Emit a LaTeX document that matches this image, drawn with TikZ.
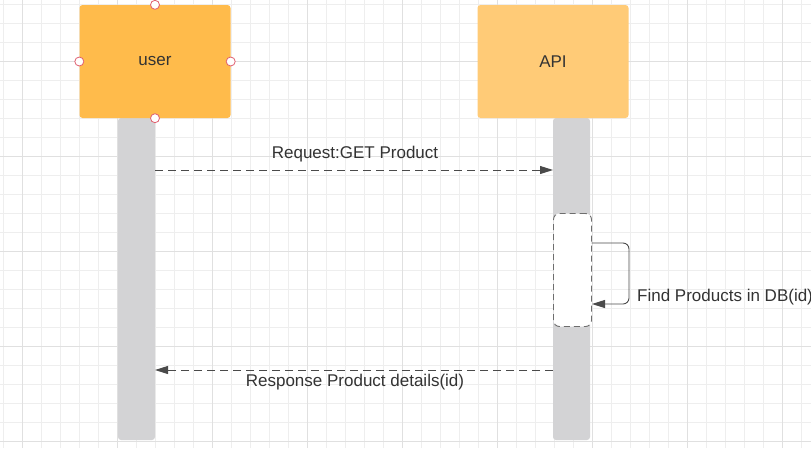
\documentclass[tikz,border=0pt]{standalone}
\usepackage{fontspec}
\setmainfont{Liberation Sans}
\usetikzlibrary{arrows.meta}
\definecolor{usercol}{HTML}{FFBB4B}
\definecolor{apicol}{HTML}{FFCB77}
\definecolor{lifecol}{HTML}{D3D3D5}
\definecolor{minorgrid}{HTML}{EEEEEE}
\definecolor{majorgrid}{HTML}{E0E0E0}
\definecolor{txt}{HTML}{333333}
\definecolor{linecol}{HTML}{4A4A4A}
\definecolor{handle}{HTML}{E06070}
\tikzset{
  actor/.style={rounded corners=3pt, minimum width=151pt, minimum height=113pt, inner sep=0pt, font=\fontsize{17}{20}\selectfont, text=txt},
  lifeline/.style={fill=lifecol, rounded corners=3pt, minimum width=37pt, minimum height=322pt, inner sep=0pt},
  msg/.style={draw=linecol, line width=0.9pt, dash pattern=on 8pt off 5pt, -{Triangle[length=13pt,width=8pt]}},
  lbl/.style={font=\fontsize{17}{20}\selectfont, text=txt, inner sep=0pt},
  handlept/.style={circle, draw=handle, fill=white, line width=0.8pt, minimum size=9pt, inner sep=0pt},
}
\begin{document}
\begin{tikzpicture}[x=1pt,y=-1pt]
\useasboundingbox (0,0) rectangle (811,448);
\fill[white] (0,0) rectangle (811,448);
% grid
\foreach \gx in {3.7,22.7,...,811} {\draw[minorgrid, line width=0.8pt] (\gx,0) -- (\gx,448);}
\foreach \gy in {4,23,...,448} {\draw[minorgrid, line width=0.8pt] (0,\gy) -- (811,\gy);}
\foreach \gx in {22.7,117.7,...,811} {\draw[majorgrid, line width=0.9pt] (\gx,0) -- (\gx,448);}
\foreach \gy in {61,156,...,448} {\draw[majorgrid, line width=0.9pt] (0,\gy) -- (811,\gy);}
% lifelines
\node[lifeline] (ul) at (136.5,279) {};
\node[lifeline] (al) at (571.5,279) {};
% actors
\node[actor, fill=usercol] (user) at (155,61.5) {user};
\node[actor, fill=apicol] (api) at (553,61.5) {API};
% handles on user
\node[handlept] (h1) at (user.north) {};
\node[handlept] (h2) at (user.south) {};
\node[handlept] (h3) at (user.west) {};
\node[handlept] (h4) at (user.east) {};
% activation
\node[draw=linecol!80, fill=white, dash pattern=on 6pt off 4pt, line width=0.9pt, rounded corners=6pt, minimum width=38pt, minimum height=113pt, inner sep=0pt] (act) at (572.5,270) {};
% request
\coordinate (rqs) at (155,170);
\coordinate (rqe) at (553,170);
\draw[msg] (rqs) -- (rqe);
\node[lbl] (rql) at (355,154.5) {Request:GET Product};
% self call
\coordinate (ss) at (591.5,243);
\coordinate (se) at (592,304);
\draw[draw=linecol, line width=0.9pt, rounded corners=6pt, -{Triangle[length=13pt,width=8pt]}] (ss) -- (629,243) -- (629,304) -- (se);
\node[lbl, anchor=west] (sl) at (637,297.5) {Find Products in DB(id)};
% response
\coordinate (rss) at (553,370);
\coordinate (rse) at (155,370);
\draw[msg] (rss) -- (rse);
\node[lbl] (rsl) at (355,382.5) {Response Product details(id)};
\end{tikzpicture}
\end{document}
